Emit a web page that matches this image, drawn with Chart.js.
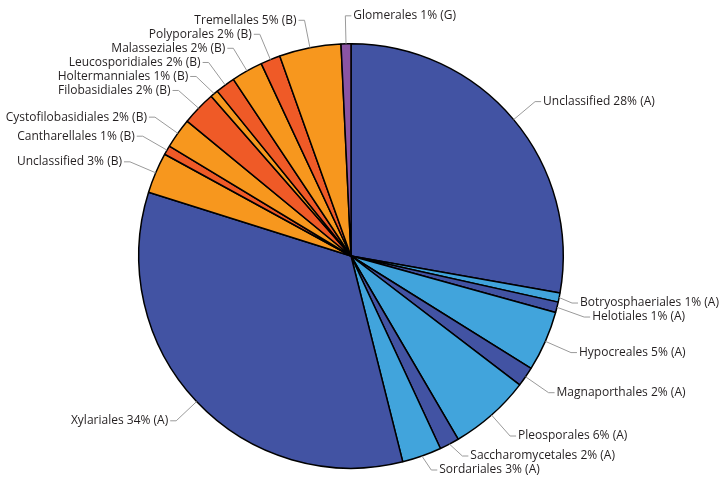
<!DOCTYPE html>
<html>
<head>
<meta charset="utf-8">
<script src="https://cdn.jsdelivr.net/npm/chart.js@4/dist/chart.umd.min.js"></script>
<style>
  html, body { margin: 0; padding: 0; background: #fff; }
  canvas { display: block; }
</style>
</head>
<body>
<canvas id="pie" width="720" height="478"></canvas>
<script>
// orders, clockwise from 12 o'clock
const orders = [
  "Unclassified", "Botryosphaeriales", "Helotiales", "Hypocreales", "Magnaporthales",
  "Pleosporales", "Saccharomycetales", "Sordariales", "Xylariales",
  "Unclassified", "Cantharellales", "Cystofilobasidiales", "Filobasidiales",
  "Holtermanniales", "Leucosporidiales", "Malasseziales", "Polyporales", "Tremellales",
  "Glomerales"
];
const groups = ["A", "A", "A", "A", "A", "A", "A", "A", "A",
  "B", "B", "B", "B", "B", "B", "B", "B", "B", "G"];
// share of reads (%) as drawn
const shares = [27.8, 0.7, 0.8, 4.6, 1.5, 6.2, 1.5, 3.0, 33.8,
  3.1, 0.7, 2.3, 2.6, 0.6, 1.5, 2.4, 1.5, 4.7, 0.75];
// percentages printed in the labels
const labelPct = [28, 1, 1, 5, 2, 6, 2, 3, 34, 3, 1, 2, 2, 1, 2, 2, 2, 5, 1];

const DARK_BLUE = "#4253a3";
const LIGHT_BLUE = "#41a4dc";
const ORANGE = "#f7971e";
const RED = "#ef5a27";
const PURPLE = "#8a54a3";

// alternate shades inside each group
const colors = [];
let k = 0, prev = null;
groups.forEach((g) => {
  if (g !== prev) { k = 0; prev = g; }
  if (g === "A") colors.push(k % 2 === 0 ? DARK_BLUE : LIGHT_BLUE);
  else if (g === "B") colors.push(k % 2 === 0 ? ORANGE : RED);
  else colors.push(PURPLE);
  k++;
});

const labels = orders.map((o, i) => o + " " + labelPct[i] + "% (" + groups[i] + ")");

// draws the outside labels with grey leader lines
const outsideLabels = {
  id: "outsideLabels",
  afterDraw(chart) {
    const ctx = chart.ctx;
    const meta = chart.getDatasetMeta(0);
    ctx.save();
    ctx.font = "12px 'Open Sans'";
    ctx.textBaseline = "middle";

    const items = [];
    meta.data.forEach((arc, i) => {
      const p = arc.getProps(["x", "y", "startAngle", "endAngle", "outerRadius"], true);
      const mid = (p.startAngle + p.endAngle) / 2;
      const cx = Math.cos(mid), cy = Math.sin(mid);
      const r = p.outerRadius;
      const it = {
        i,
        ax: p.x + cx * r, ay: p.y + cy * r,
        ex: p.x + cx * (r + 28), ey: p.y + cy * (r + 28),
        right: cx >= -0.05
      };
      // keep right-hand text inside the canvas
      if (it.right) {
        const w = ctx.measureText(labels[i]).width;
        it.ex = Math.min(it.ex, chart.width - w - 9);
      }
      items.push(it);
    });

    const gap = 14, top = 8, bottom = 470;
    [true, false].forEach((side) => {
      const list = items.filter((it) => it.right === side).sort((a, b) => a.ey - b.ey);
      list.forEach((it) => { it.ly = it.ey; });
      for (let j = 0; j < list.length; j++) {
        const min = j === 0 ? top : list[j - 1].ly + gap;
        if (list[j].ly < min) list[j].ly = min;
      }
      for (let j = list.length - 1; j >= 0; j--) {
        const max = j === list.length - 1 ? bottom : list[j + 1].ly - gap;
        if (list[j].ly > max) list[j].ly = max;
      }
    });

    items.forEach((it) => {
      const dir = it.right ? 1 : -1;
      ctx.strokeStyle = "#9a9a9a";
      ctx.lineWidth = 1;
      ctx.beginPath();
      ctx.moveTo(it.ax, it.ay);
      ctx.lineTo(it.ex, it.ly);
      ctx.lineTo(it.ex + dir * 6, it.ly);
      ctx.stroke();
      ctx.fillStyle = "#231f20";
      ctx.textAlign = it.right ? "left" : "right";
      ctx.fillText(labels[it.i], it.ex + dir * 8, it.ly);
    });
    ctx.restore();
  }
};

new Chart(document.getElementById("pie"), {
  type: "pie",
  data: {
    labels: labels,
    datasets: [{
      data: shares,
      backgroundColor: colors,
      borderColor: "#000",
      borderWidth: 1.5
    }]
  },
  options: {
    responsive: false,
    animation: false,
    layout: { padding: { top: 43, bottom: 9, left: 138, right: 156 } },
    plugins: {
      legend: { display: false },
      tooltip: { enabled: false }
    }
  },
  plugins: [outsideLabels]
});
</script>
</body>
</html>
